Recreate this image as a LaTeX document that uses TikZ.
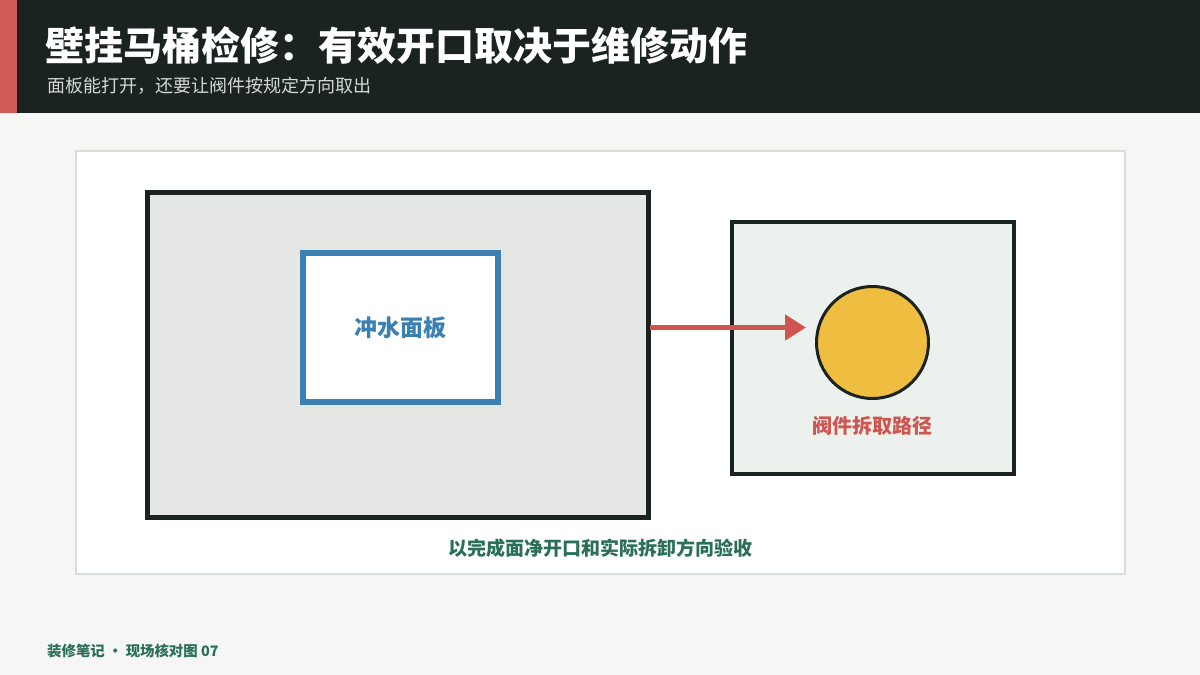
\documentclass[tikz,border=0pt]{standalone}
\usepackage{fontspec}
\setmainfont{Noto Sans CJK SC}
\usepackage{tikz}
\usetikzlibrary{positioning}
\usetikzlibrary{arrows.meta}

\definecolor{pagebg}{HTML}{F6F6F4}
\definecolor{headbg}{HTML}{1A2320}
\definecolor{accent}{HTML}{D05A55}
\definecolor{subgrey}{HTML}{D3D8D5}
\definecolor{cardline}{HTML}{D6DDDA}
\definecolor{tankfill}{HTML}{E4E7E4}
\definecolor{valvefill}{HTML}{EDF1ED}
\definecolor{panelblue}{HTML}{3A80B3}
\definecolor{valveyellow}{HTML}{EFBD3F}
\definecolor{pathred}{HTML}{CF5650}
\definecolor{checkgreen}{HTML}{2A6F58}

\begin{document}
\begin{tikzpicture}[x=1pt,y=-1pt,inner sep=0pt,node distance=16pt,
	frame node/.style={rectangle,draw=headbg,line width=5pt},
	panel node/.style={rectangle,draw=panelblue,fill=white,line width=6pt,
		font=\bfseries\fontsize{23}{23}\selectfont,text=panelblue},
	valve node/.style={circle,draw=headbg,fill=valveyellow,line width=3pt},
	pull arrow/.style={draw=pathred,line width=5pt,-{Triangle[length=21pt,width=25pt]}}]
	
	% page and header
	\fill[pagebg] (0,0) rectangle (1200,675);
	\useasboundingbox (0,0) rectangle (1200,675);
	\fill[headbg] (0,0) rectangle (1200,113);
	\fill[accent] (0,0) rectangle (17,113);
	\node[anchor=west,text=white,font=\bfseries\fontsize{39}{39}\selectfont] (title) at (45,46) {壁挂马桶检修：有效开口取决于维修动作};
	\node[anchor=west,text=subgrey,font=\fontsize{18}{18}\selectfont] (subtitle) at (47,86) {面板能打开，还要让阀件按规定方向取出};
	
	% card
	\node[rectangle,draw=cardline,fill=white,line width=2pt,minimum width=1049pt,minimum height=423pt] (card) at (600.5,362.5) {};
	
	\node[frame node,fill=tankfill,minimum width=501pt,minimum height=325pt] (tank) at (398,355.2) {};
	\node[panel node,minimum width=195pt,minimum height=149pt] (panel) at (400.5,327.5) {冲水面板};
	
	\node[frame node,fill=valvefill,line width=4pt,minimum width=282pt,minimum height=252pt] (access) at (873,348) {};
	\node[valve node,minimum size=112pt] (valve) at (872.5,342.5) {};
	\node[text=pathred,font=\bfseries\fontsize{20}{20}\selectfont] (valvelabel) [below=of valve] {阀件拆取路径};
	
	\coordinate (pullstart) at (650,327.5);
	\draw[pull arrow] (pullstart) -- ([xshift=-9pt]valve.west |- pullstart);
	
	\node[text=checkgreen,font=\bfseries\fontsize{19}{19}\selectfont] (check) at (600,548) {以完成面净开口和实际拆卸方向验收};
	
	% footer
	\node[anchor=west,text=checkgreen,font=\bfseries\fontsize{14.4}{14.4}\selectfont] (footer) at (47,651) {装修笔记 • 现场核对图 07};
\end{tikzpicture}
\end{document}
